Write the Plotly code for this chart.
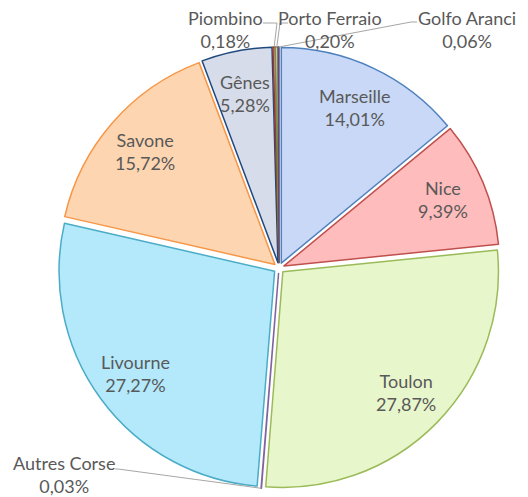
import math
import plotly.graph_objects as go

# pie data (clockwise from 12 o'clock)
ports = ["Marseille", "Nice", "Toulon", "Autres Corse", "Livourne", "Savone",
         "Gênes", "Piombino", "Porto Ferraio", "Golfo Aranci"]
shares = [14.01, 9.39, 27.87, 0.03, 27.27, 15.72, 5.28, 0.18, 0.20, 0.06]

fill_colors = ["#c8d8f6", "#ffbcbc", "#e8f6cc", "#d9cce8", "#b3e9fb",
               "#fdd5b1", "#d6dce9", "#d99694", "#d7e4bd", "#b3a2c7"]
line_colors = ["#4f81bd", "#c0504d", "#9bbb59", "#8064a2", "#4bacc6",
               "#f79646", "#1f497d", "#953735", "#77933c", "#5f497a"]

W, H = 528, 497
DOMAIN_X = [0.1098, 0.9470]
DOMAIN_Y = [0.0161, 0.9054]
PULL = 0.025
FONT = "Lato"
FONT_SIZE = 18
TEXT_COLOR = "#595959"

# outside labels: text centre and leader line (elbow, end) in pixels
outside = {
    "Piombino": dict(text=(225, 29), elbow=(277, 23), end=(263, 23)),
    "Porto Ferraio": dict(text=(330, 29), elbow=(280, 23), end=(288, 23)),
    "Golfo Aranci": dict(text=(467, 29), elbow=(411, 22), end=(417, 22)),
    "Autres Corse": dict(text=(64, 474), elbow=(118, 469), end=(115, 469)),
}


def fmt(v):
    return f"{v:.2f}".replace(".", ",") + "%"


def to_paper(px, py):
    return px / W, 1 - py / H


# same geometry plotly uses for the pie
box_w = W * (DOMAIN_X[1] - DOMAIN_X[0])
box_h = H * (DOMAIN_Y[1] - DOMAIN_Y[0])
cx = W * (DOMAIN_X[0] + DOMAIN_X[1]) / 2
cy = H * (1 - DOMAIN_Y[0]) - box_h / 2
r = min(box_w, box_h) / 2 / (1 + PULL)

fig = go.Figure(go.Pie(
    labels=ports,
    values=shares,
    sort=False,
    direction="clockwise",
    rotation=0,
    pull=PULL,
    textinfo="none",
    hoverinfo="label+percent",
    marker=dict(colors=fill_colors, line=dict(color=line_colors, width=1.5)),
    domain=dict(x=DOMAIN_X, y=DOMAIN_Y),
    showlegend=False,
))

total = sum(shares)
annotations = []
shapes = []
cum = 0.0
for name, v in zip(ports, shares):
    theta = 2 * math.pi * (cum + v / 2) / total
    cum += v
    s, c = math.sin(theta), math.cos(theta)
    label = f"{name}<br>{fmt(v)}"
    if name not in outside:
        rr = 0.80 * r + PULL * r
        xp, yp = to_paper(cx + rr * s, cy - rr * c)
    else:
        o = outside[name]
        ex, ey = cx + (1 + PULL) * r * s, cy - (1 + PULL) * r * c
        pts = [to_paper(ex, ey), to_paper(*o["elbow"]), to_paper(*o["end"])]
        path = "M {} {} L {} {} L {} {}".format(*[a for p in pts for a in p])
        shapes.append(dict(type="path", path=path, xref="paper", yref="paper",
                           line=dict(color="#a6a6a6", width=1)))
        xp, yp = to_paper(*o["text"])
    annotations.append(dict(x=xp, y=yp, xref="paper", yref="paper",
                            xanchor="center", yanchor="middle",
                            text=label, showarrow=False,
                            font=dict(family=FONT, size=FONT_SIZE, color=TEXT_COLOR)))

fig.update_layout(
    width=W, height=H,
    margin=dict(l=0, r=0, t=0, b=0),
    paper_bgcolor="white",
    annotations=annotations,
    shapes=shapes,
)

fig.write_html("out.html", config={"displayModeBar": False},
               post_script="document.body.style.margin='0';")
